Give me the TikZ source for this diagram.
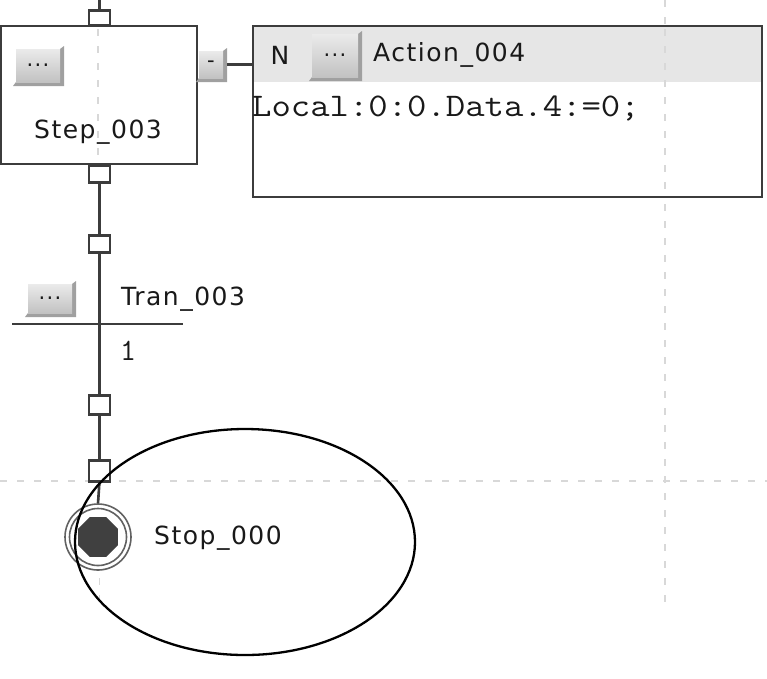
\documentclass[tikz,border=0pt]{standalone}
\usepackage{fontspec}
\usetikzlibrary{shapes.geometric,calc}
\newfontfamily\uisans[LetterSpace=6]{DejaVu Sans}
\definecolor{linegray}{HTML}{3C3C3C}
\definecolor{gridgray}{HTML}{D8D8D8}
\definecolor{headgray}{HTML}{E6E6E6}
\definecolor{btnshadow}{HTML}{A0A0A0}
\newcommand{\mybtn}[6]{%
  \fill[btnshadow] (#2-3,#5+4) -- (#2,#5) -- (#4,#5) -- (#4,#3) -- (#4+4,#3-3) -- (#4+4,#5+4) -- cycle;
  \node[btnface, minimum width=#4-#2, minimum height=#5-#3, anchor=north west] (#1) at (#2,#3) {#6};
}
\begin{document}
\begin{tikzpicture}[x=1pt,y=-1pt,
  gridline/.style={draw=gridgray, line width=1.4pt, dash pattern=on 7pt off 10pt},
  wire/.style={draw=linegray, line width=2.6pt},
  port/.style={draw=linegray, line width=2.2pt, fill=white, minimum width=21pt, minimum height=16pt, inner sep=0pt, outer sep=0pt},
  frame/.style={draw=linegray, line width=2.8pt, fill=white, inner sep=0pt, outer sep=0pt},
  btnface/.style={top color=black!8, bottom color=black!24, inner sep=0pt, outer sep=0pt, font=\uisans\fontsize{21}{21}\selectfont, text=black!90},
  label/.style={font=\uisans\fontsize{25}{25}\selectfont, text=black!90, inner sep=0pt},
  monolabel/.style={font=\ttfamily\fontsize{33}{33}\selectfont, text=black!90, inner sep=0pt}
]
\useasboundingbox (0,0) rectangle (767,678);
\fill[white] (0,0) rectangle (767,678);
% grid
\draw[gridline] (99.5,0) -- (99.5,607);
\draw[gridline] (665,0) -- (665,607);
\draw[gridline] (0,481) -- (767,481);
% step
\node[frame, minimum width=196pt, minimum height=138pt, anchor=north west] (step) at (1,26) {};
\draw[gridline] (98,29) -- (98,162);
\mybtn{stepbtn}{16}{49}{60}{82}{...}
\node[label] (steplbl) at (98,132) {Step\_003};
% qualifier button
\mybtn{qualbtn}{199}{51}{223}{78}{-}
% action box
\node[frame, minimum width=509pt, minimum height=171pt, anchor=north west] (act) at (253,26) {};
\fill[headgray] (254.4,27.4) rectangle (760.6,82);
\draw[gridline] (665,29) -- (665,195);
\draw[linegray, line width=2.8pt] (act.north west) rectangle (act.south east);
\node[label, anchor=center] (qualN) at (280,55) {N};
\mybtn{actbtn}{312}{34}{358}{77}{...}
\node[label, anchor=west] (actlbl) at (373,55) {Action\_004};
\node[monolabel, anchor=base west] (code) at (252,116) {\scalebox{1.14}[1]{Local:0:0.Data.4:=0;}};
\coordinate (actin) at (act.west |- qualbtn.east);
\draw[wire, line width=2.2pt] (qualbtn.east) ++(4,0) -- (actin);
% ports
\coordinate (topin) at (99.5,0);
\node[port, minimum height=15pt] (topport) at (99.5,18) {};
\node[port, minimum height=17pt] (botport) at (99.5,174) {};
\node[port, minimum height=17pt] (tport1) at (99.5,244) {};
\node[port, minimum height=19pt] (tport2) at (99.5,405) {};
\node[port, minimum height=21pt] (tport3) at (99.5,471) {};
% transition
\coordinate (tbarl) at (12,324);
\coordinate (tbarr) at (183,324);
\mybtn{tranbtn}{28}{284}{72}{313}{...}
\node[label, anchor=west] (tranlbl) at (121,299) {Tran\_003};
\node[font=\ttfamily\fontsize{31}{31}\selectfont, text=black!90, inner sep=0pt] (cond) at (128,351) {1};
% stop
\node[circle, draw=black!62, line width=1.6pt, minimum size=66pt, inner sep=0pt, fill=white] (stop) at (98,537) {};
\node[circle, draw=black!62, line width=1.6pt, minimum size=57pt, inner sep=0pt] (stopin) at (98,537) {};
\node[regular polygon, regular polygon sides=8, fill=black!75, minimum size=43pt, inner sep=0pt] (stopdot) at (98,537) {};
\node[label, anchor=west] (stoplbl) at (154,538) {Stop\_000};
% connectors
\draw[wire] (topin) -- (topport.north);
\draw[wire] (botport.south) -- (tport1.north);
\draw[wire] (tport1.south) -- (tport2.north);
\draw[wire] (tbarl) -- (tbarr);
\draw[wire] (tport2.south) -- (tport3.north);
\draw[wire] (tport3.south) -- (stop.north);
% highlight ellipse
\node[ellipse, draw=black, line width=2.3pt, minimum width=340pt, minimum height=226pt, inner sep=0pt] (mark) at (245,542) {};
\end{tikzpicture}
\end{document}
